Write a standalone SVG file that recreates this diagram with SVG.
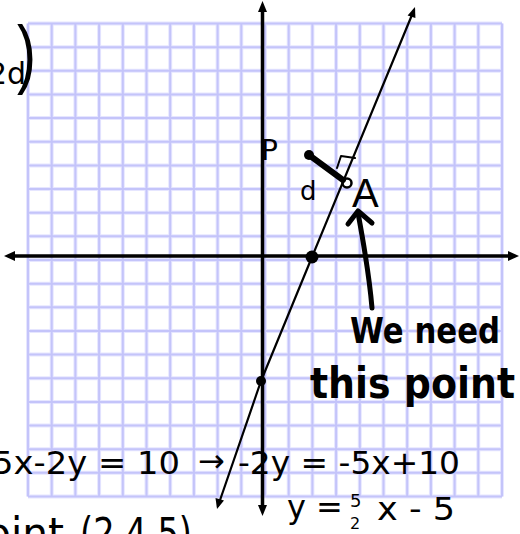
<svg xmlns="http://www.w3.org/2000/svg" width="520" height="534" viewBox="0 0 520 534">
<style>
.grid-halo{fill:none;stroke:#e6e6ff;stroke-width:4}
.grid{fill:none;stroke:#c4c4fa;stroke-width:2}
.axis{stroke:#000;stroke-width:3.5;fill:none}
.ink{stroke:#000;fill:none;stroke-linecap:round;stroke-linejoin:round}
.hw{font-family:"DejaVu Sans","Liberation Sans",sans-serif;fill:#000}
.thin{font-family:"Liberation Sans","DejaVu Sans",sans-serif;fill:#000}
</style>
<rect width="520" height="534" fill="#fff"/>
<g id="grid">
<path class="grid-halo" d="M28,23.5V496.5M51.7,23.5V496.5M75.4,23.5V496.5M99.1,23.5V496.5M122.8,23.5V496.5M146.5,23.5V496.5M170.2,23.5V496.5M193.9,23.5V496.5M217.6,23.5V496.5M241.3,23.5V496.5M265,23.5V496.5M288.7,23.5V496.5M312.4,23.5V496.5M336.1,23.5V496.5M359.8,23.5V496.5M383.5,23.5V496.5M407.2,23.5V496.5M430.9,23.5V496.5M454.6,23.5V496.5M478.3,23.5V496.5M502,23.5V496.5M28,23.5H502M28,47.15H502M28,70.8H502M28,94.45H502M28,118.1H502M28,141.75H502M28,165.4H502M28,189.05H502M28,212.7H502M28,236.35H502M28,260H502M28,283.65H502M28,307.3H502M28,330.95H502M28,354.6H502M28,378.25H502M28,401.9H502M28,425.55H502M28,449.2H502M28,472.85H502M28,496.5H502"/>
<path class="grid" d="M28,23.5V496.5M51.7,23.5V496.5M75.4,23.5V496.5M99.1,23.5V496.5M122.8,23.5V496.5M146.5,23.5V496.5M170.2,23.5V496.5M193.9,23.5V496.5M217.6,23.5V496.5M241.3,23.5V496.5M265,23.5V496.5M288.7,23.5V496.5M312.4,23.5V496.5M336.1,23.5V496.5M359.8,23.5V496.5M383.5,23.5V496.5M407.2,23.5V496.5M430.9,23.5V496.5M454.6,23.5V496.5M478.3,23.5V496.5M502,23.5V496.5M28,23.5H502M28,47.15H502M28,70.8H502M28,94.45H502M28,118.1H502M28,141.75H502M28,165.4H502M28,189.05H502M28,212.7H502M28,236.35H502M28,260H502M28,283.65H502M28,307.3H502M28,330.95H502M28,354.6H502M28,378.25H502M28,401.9H502M28,425.55H502M28,449.2H502M28,472.85H502M28,496.5H502"/>
</g>
<g id="axes">
<line class="axis" x1="14" y1="256" x2="509" y2="256"/>
<polygon points="4,256 15,251 15,261" fill="#000"/>
<polygon points="519,256 508,251 508,261" fill="#000"/>
<line class="axis" x1="262.5" y1="11" x2="262.5" y2="506"/>
<polygon points="262.5,1 258,12 267,12" fill="#000"/>
<polygon points="262.5,516 258,505 267,505" fill="#000"/>
</g>
<g id="connectors">
<polyline class="ink" stroke-width="2.2" points="414,10 312,257 261,381 218,506"/>
<polygon points="415,7 407.6,15.5 415.4,18" fill="#000"/>
<polygon points="217,509 224,500.5 215.5,498" fill="#000"/>
<line class="ink" stroke-width="6" x1="309" y1="155" x2="343" y2="180"/>
<polyline class="ink" stroke-width="2" points="337,168 341,156 355,158"/>
<path class="ink" stroke-width="5" d="M372,308 C369,272 363,240 358,213"/>
<polyline class="ink" stroke-width="5" points="348,224 358,211 372,223"/>
</g>
<g id="points">
<circle cx="312" cy="257" r="6.5" fill="#000"/>
<circle cx="261" cy="381" r="5" fill="#000"/>
<circle cx="309" cy="155" r="5" fill="#000"/>
<circle cx="347" cy="183" r="4.5" fill="none" stroke="#000" stroke-width="2.5"/>
</g>
<g id="labels">
<text class="hw" x="-12" y="84" font-size="30">2d</text>
<text class="thin" x="0" y="0" font-size="76" transform="translate(17,79) scale(0.75,1)">)</text>
<text class="hw" x="261" y="160" font-size="28">P</text>
<text class="hw" x="300" y="200" font-size="26">d</text>
<text class="thin" x="352" y="207" font-size="40">A</text>
<text class="hw" x="350" y="343" font-size="36" font-weight="bold" textLength="150" lengthAdjust="spacingAndGlyphs">We need</text>
<text class="hw" x="310" y="398" font-size="42" font-weight="bold" textLength="205" lengthAdjust="spacingAndGlyphs">this point</text>
<text class="hw" x="-8" y="474" font-size="32" textLength="188" lengthAdjust="spacingAndGlyphs">5x-2y = 10</text>
<text class="hw" x="198" y="472" font-size="32">→</text>
<text class="hw" x="238" y="474" font-size="32" textLength="222" lengthAdjust="spacingAndGlyphs">-2y = -5x+10</text>
<text class="hw" x="287" y="518" font-size="32">y =</text>
<text class="hw" x="350" y="507" font-size="18">5</text>
<text class="hw" x="350" y="529" font-size="16">2</text>
<text class="hw" x="377" y="520" font-size="32" textLength="78" lengthAdjust="spacingAndGlyphs">x - 5</text>
<text class="hw" x="-14" y="548" font-size="42" textLength="78" lengthAdjust="spacingAndGlyphs">oint</text>
<text class="hw" x="80" y="548" font-size="42" textLength="112" lengthAdjust="spacingAndGlyphs">(2,4.5)</text>
</g>
</svg>
